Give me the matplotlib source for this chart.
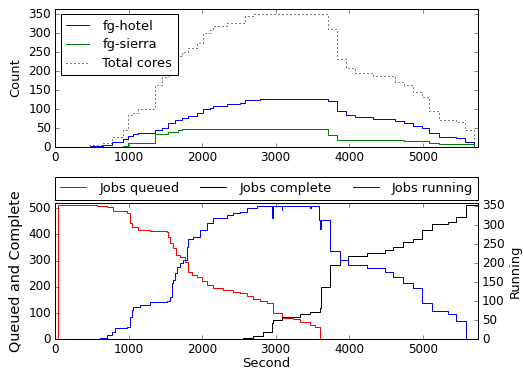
"""
Cluster run summary: node counts per site and job states over time.
"""
import matplotlib
matplotlib.use("Agg")
import matplotlib.pyplot as plt

# --- top panel: nodes per site and total cores (seconds since start) ---
site_t = [0, 475, 655, 770, 930, 996, 1064, 1132, 1359, 1449, 1540, 1630,
          1676, 1721, 1811, 1925, 2015, 2106, 2151, 2333, 2514, 2582, 2690,
          2785, 3714, 3836, 3954, 4076, 4316, 4620, 4740, 4860, 4982, 5090,
          5217, 5457, 5571, 5690, 5750]
hotel = [0, 2, 5, 12, 20, 28, 33, 37, 46, 51, 64, 72,
         72, 76, 82, 89, 99, 104, 107, 113, 117, 123, 125,
         127, 122, 96, 84, 78, 74, 68, 63, 56, 49, 37,
         26, 23, 14, 0, 0]
sierra = [0, 0, 0, 0, 3, 11, 11, 11, 35, 35, 40, 40,
          44, 47, 47, 47, 47, 47, 47, 47, 47, 47, 47,
          47, 31, 18, 18, 18, 18, 18, 17, 17, 17, 11,
          8, 8, 8, 0, 0]
total_cores = [0, 4, 10, 26, 46, 84, 89, 100, 163, 184, 212, 229,
               240, 251, 260, 273, 300, 309, 319, 326, 328, 344, 350,
               350, 310, 231, 207, 195, 186, 172, 163, 144, 133, 95,
               71, 67, 45, 0, 0]

# --- bottom panel: job states ---
job_t = [0, 45, 385, 521, 566, 611, 702, 770, 793, 815, 974, 1019, 1041,
         1064, 1132, 1155, 1291, 1517, 1540, 1562, 1585, 1608, 1630, 1644,
         1653, 1698, 1744, 1766, 1789, 1811, 1857, 1880, 1925, 1970, 1993,
         2060, 2151, 2287, 2332, 2423, 2514, 2559, 2604, 2695, 2740, 2785,
         2830, 2876, 2944, 2966, 3079, 3090, 3238, 3329, 3465, 3480, 3532,
         3591, 3600, 3610, 3736, 3872, 3985, 4235, 4484, 4597, 4733, 4869,
         4982, 5118, 5344, 5457, 5593, 5750]
queued = [0, 512, 512, 512, 510, 510, 506, 506, 488, 488, 481, 444, 430,
          430, 419, 419, 415, 410, 390, 366, 366, 347, 347, 322,
          322, 315, 315, 296, 296, 258, 246, 246, 239, 239, 222,
          208, 197, 189, 189, 182, 176, 176, 164, 155, 155, 147,
          147, 137, 137, 100, 80, 80, 76, 67, 55, 55, 48,
          48, 0, 0, 0, 0, 0, 0, 0, 0, 0, 0,
          0, 0, 0, 0, 0, 0]
complete = [0, 0, 0, 0, 0, 0, 0, 0, 0, 0, 0, 0, 0,
            0, 0, 0, 0, 0, 0, 0, 0, 0, 0, 0,
            0, 0, 0, 0, 0, 0, 0, 0, 0, 0, 0,
            0, 0, 0, 0, 1, 1, 4, 4, 14, 14, 14,
            29, 29, 61, 74, 87, 87, 87, 95, 104, 104, 104,
            104, 118, 201, 283, 304, 316, 328, 341, 354, 371, 384,
            418, 440, 449, 468, 512, 512]
running = [0, 0, 0, 2, 2, 4, 11, 20, 20, 29, 33, 59, 77,
           86, 86, 90, 97, 100, 100, 112, 147, 156, 173, 173,
           189, 199, 208, 208, 243, 262, 262, 269, 269, 287, 287,
           304, 318, 318, 326, 331, 335, 335, 344, 344, 350, 350,
           350, 350, 318, 350, 340, 350, 350, 350, 345, 350, 350,
           313, 289, 313, 233, 209, 195, 186, 177, 164, 147, 134,
           94, 74, 66, 47, 0, 0]

plt.style.use("classic")
plt.rcParams["font.family"] = ["DejaVu Sans"]
plt.rcParams["font.size"] = 12
plt.rcParams["xtick.major.pad"] = 3.5
plt.rcParams["ytick.major.pad"] = 4
plt.rcParams["savefig.facecolor"] = "white"

W, H = 523, 369
fig = plt.figure(figsize=(W / 72, H / 72), dpi=72, facecolor="white")

ax1 = fig.add_axes([55 / W, 1 - 147 / H, 423 / W, 138.5 / H])
ax1.plot(site_t, hotel, color="#0000ff", drawstyle="steps-post", label="fg-hotel")
ax1.plot(site_t, sierra, color="#008000", drawstyle="steps-post", label="fg-sierra")
ax1.plot(site_t, total_cores, "k:", drawstyle="steps-post", label="Total cores")
ax1.set_xlim(0, 5750)
ax1.set_ylim(0, 365)
ax1.set_yticks(range(0, 351, 50))
ax1.set_xticks(range(0, 5001, 1000))
ax1.set_ylabel("Count", fontsize=13, labelpad=6)
ax1.legend(loc="upper left", fontsize=13, numpoints=1, handlelength=1.8,
           handletextpad=1.0, labelspacing=0.45, borderpad=0.4,
           borderaxespad=0.45)

ax2 = fig.add_axes([55 / W, 1 - 339.3 / H, 423 / W, 136 / H])
l_q, = ax2.plot(job_t, queued, color="#ff0000", drawstyle="steps-post")
l_c, = ax2.plot(job_t, complete, color="#000000", drawstyle="steps-post")
ax2.set_xlim(0, 5750)
ax2.set_ylim(0, 519)
ax2.set_yticks(range(0, 501, 100))
ax2.set_xticks(range(0, 5001, 1000))
ax2.set_xlabel("Second", fontsize=13, labelpad=1)
ax2.set_ylabel("Queued and Complete", fontsize=14.4, labelpad=5)

ax3 = ax2.twinx()
l_r, = ax3.plot(job_t, running, color="#0000ff", drawstyle="steps-post")
ax3.set_xlim(0, 5750)
ax3.set_ylim(0, 357)
ax3.set_yticks(range(0, 351, 50))
ax3.set_ylabel("Running", fontsize=13, labelpad=4)

ax2.legend([l_q, l_c, l_r], ["Jobs queued", "Jobs complete", "Jobs running"],
           loc="lower left", bbox_to_anchor=(0, 1.025, 1, 0.17), mode="expand",
           ncol=3, borderaxespad=0, fontsize=13, numpoints=1,
           handlelength=2.0, handletextpad=1.0)

fig.savefig("out.png", dpi=72, facecolor="white")
